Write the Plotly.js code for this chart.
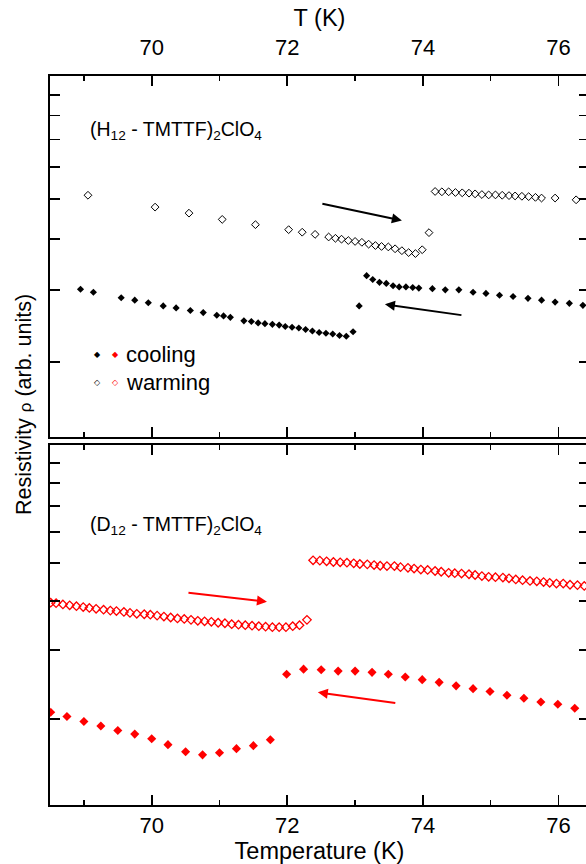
<!DOCTYPE html>
<html><head><meta charset="utf-8">
<script src="https://cdn.plot.ly/plotly-3.0.1.min.js"></script>
<style>html,body{margin:0;padding:0;overflow:hidden;background:#fff}#plot{width:592px;height:864px}</style>
</head><body><div id="plot"></div>
<script>
// (H12-TMTTF)2ClO4 — top panel
var hCoolT = [68.95,69.14,69.55,69.75,69.95,70.17,70.36,70.57,70.76,70.96,71.06,71.16,71.36,71.47,71.57,71.67,71.78,71.88,71.97,72.07,72.17,72.27,72.37,72.47,72.57,72.67,72.77,72.87,72.97,73.06,73.17,73.26,73.36,73.46,73.56,73.65,73.75,73.85,73.94,74.14,74.33,74.53,74.74,74.93,75.13,75.33,75.55,75.75,75.95,76.16,76.36];
var hCoolR = [3.01,2.96,2.87,2.83,2.79,2.74,2.71,2.67,2.64,2.60,2.59,2.57,2.52,2.51,2.49,2.48,2.47,2.46,2.44,2.43,2.42,2.40,2.38,2.36,2.35,2.34,2.32,2.31,2.37,2.74,3.25,3.18,3.13,3.11,3.07,3.05,3.05,3.04,3.03,3.02,3.00,3.00,2.96,2.94,2.91,2.89,2.86,2.83,2.80,2.78,2.75];
var hWarmT = [69.06,70.05,70.55,71.04,71.53,72.02,72.22,72.41,72.61,72.71,72.80,72.90,73.00,73.10,73.20,73.30,73.39,73.49,73.59,73.69,73.79,73.89,73.99,74.09,74.18,74.28,74.38,74.48,74.58,74.68,74.77,74.87,74.97,75.07,75.17,75.27,75.36,75.46,75.56,75.66,75.75,75.95,76.26];
var hWarmR = [5.11,4.78,4.62,4.46,4.33,4.21,4.15,4.10,4.04,4.01,3.99,3.96,3.94,3.92,3.88,3.85,3.83,3.82,3.78,3.74,3.70,3.68,3.76,4.14,5.22,5.21,5.21,5.19,5.18,5.17,5.15,5.13,5.12,5.12,5.11,5.10,5.09,5.08,5.07,5.05,5.03,5.03,4.98];
// (D12-TMTTF)2ClO4 — bottom panel
var dCoolT = [68.51,68.75,69.00,69.25,69.50,69.75,70.00,70.24,70.50,70.75,71.00,71.25,71.50,71.75,71.99,72.24,72.50,72.75,73.00,73.25,73.49,73.74,73.99,74.24,74.49,74.74,74.99,75.24,75.49,75.74,75.99,76.24];
var dCoolR = [2.08,2.03,1.97,1.92,1.87,1.83,1.78,1.72,1.65,1.62,1.64,1.68,1.71,1.77,2.60,2.68,2.67,2.65,2.65,2.63,2.60,2.56,2.52,2.48,2.43,2.39,2.35,2.30,2.26,2.21,2.18,2.13];
var dWarmT = [68.51,68.59,68.69,68.79,68.89,68.99,69.08,69.18,69.29,69.39,69.48,69.59,69.68,69.78,69.89,69.98,70.08,70.18,70.28,70.38,70.48,70.58,70.68,70.78,70.88,70.98,71.08,71.18,71.28,71.38,71.48,71.58,71.68,71.78,71.88,71.98,72.08,72.18,72.29,
  72.38,72.48,72.58,72.68,72.78,72.88,72.98,73.07,73.18,73.28,73.37,73.47,73.58,73.67,73.78,73.87,73.97,74.07,74.18,74.27,74.38,74.47,74.57,74.68,74.77,74.87,74.97,75.07,75.18,75.27,75.37,75.47,75.58,75.68,75.78,75.87,75.97,76.07,76.17,76.28,76.38];
var dWarmR = [3.96,3.95,3.92,3.90,3.88,3.86,3.84,3.82,3.80,3.78,3.77,3.75,3.73,3.71,3.70,3.69,3.67,3.65,3.63,3.61,3.60,3.58,3.56,3.55,3.54,3.52,3.51,3.49,3.48,3.47,3.46,3.45,3.44,3.43,3.43,3.43,3.45,3.47,3.58,
  5.08,5.07,5.05,5.03,5.02,5.01,4.99,4.97,4.96,4.94,4.92,4.91,4.91,4.88,4.86,4.84,4.81,4.80,4.77,4.75,4.72,4.71,4.70,4.68,4.66,4.63,4.61,4.60,4.59,4.57,4.54,4.52,4.50,4.49,4.47,4.45,4.43,4.43,4.40,4.39,4.37];

var xTicks = [70,72,74,76];
var xMinor = [69,71,73,75];
var yTicks = [2,3,4,5,6,7,8,9];

var FONT = 'Liberation Sans, Arial, sans-serif';
var RED = 'rgb(255,0,0)';

var traces = [
  {x:hCoolT, y:hCoolR, xaxis:'x2', yaxis:'y', mode:'markers', name:'cooling',
   marker:{symbol:'diamond', size:5.5, color:'#000'}},
  {x:hWarmT, y:hWarmR, xaxis:'x2', yaxis:'y', mode:'markers', name:'warming',
   marker:{symbol:'diamond-open', size:6, color:'#000', line:{width:1,color:'#000'}}},
  {x:dCoolT, y:dCoolR, xaxis:'x', yaxis:'y2', mode:'markers', name:'cooling D',
   marker:{symbol:'diamond', size:7, color:RED}},
  {x:dWarmT, y:dWarmR, xaxis:'x', yaxis:'y2', mode:'markers', name:'warming D',
   marker:{symbol:'diamond-open', size:6.5, color:RED, line:{width:1.3,color:RED}}}
];

var axCommon = {
  showline:true, linewidth:2, linecolor:'#000', mirror:'ticks',
  ticks:'inside', ticklen:10, tickwidth:1.6, tickcolor:'#000',
  showgrid:false, zeroline:false
};
function xa(extra){ return Object.assign({}, axCommon, {
  range:[68.5,76.45], tickmode:'array', tickvals:xTicks,
  tickfont:{family:FONT, size:22, color:'#000'},
  minor:{tickmode:'array', tickvals:xMinor, ticks:'inside', ticklen:5, tickwidth:1.6, tickcolor:'#000', showgrid:false}
}, extra); }
function ya(extra){ return Object.assign({}, axCommon, {
  type:'log', tickmode:'array', tickvals:yTicks, showticklabels:false
}, extra); }

var PW = 539, PH = 729, L = 50, T = 76;
function px(xp){ return (xp - L)/PW; }
function py(yp){ return (T + PH - yp)/PH; }

var annotations = [
  {xref:'paper', yref:'paper', x:px(88), y:py(130), xanchor:'left', yanchor:'middle', showarrow:false,
   text:'(H<sub>12</sub> - TMTTF)<sub>2</sub>ClO<sub>4</sub>', font:{family:FONT, size:19.5, color:'#000'}},
  {xref:'paper', yref:'paper', x:px(88), y:py(525), xanchor:'left', yanchor:'middle', showarrow:false,
   text:'(D<sub>12</sub> - TMTTF)<sub>2</sub>ClO<sub>4</sub>', font:{family:FONT, size:19.5, color:'#000'}},
  {xref:'paper', yref:'paper', x:px(24), y:py(405), xanchor:'center', yanchor:'middle', showarrow:false, textangle:-90,
   text:'Resistivity <span style="font-size:17px">ρ</span> (arb. units)', font:{family:FONT, size:21.5, color:'#000'}},
  // legend
  {xref:'paper', yref:'paper', x:px(92), y:py(354), showarrow:false, text:'◆', font:{family:'DejaVu Sans', size:8, color:'#000'}},
  {xref:'paper', yref:'paper', x:px(110), y:py(354), showarrow:false, text:'◆', font:{family:'DejaVu Sans', size:8, color:RED}},
  {xref:'paper', yref:'paper', x:px(92), y:py(382), showarrow:false, text:'◇', font:{family:'DejaVu Sans', size:8, color:'#000'}},
  {xref:'paper', yref:'paper', x:px(110), y:py(382), showarrow:false, text:'◇', font:{family:'DejaVu Sans', size:8, color:RED}},
  {xref:'paper', yref:'paper', x:px(124), y:py(354), xanchor:'left', yanchor:'middle', showarrow:false, text:'cooling', font:{family:FONT, size:22, color:'#000'}},
  {xref:'paper', yref:'paper', x:px(124), y:py(382), xanchor:'left', yanchor:'middle', showarrow:false, text:'warming', font:{family:FONT, size:22, color:'#000'}},
  // arrows (head position in axis coordinates, tail as pixel offset)
  {xref:'x2', yref:'y', x:73.69, y:0.6466, ax:-81, ay:-17, text:'', showarrow:true, arrowhead:2, arrowsize:1, arrowwidth:2, arrowcolor:'#000', standoff:0},
  {xref:'x2', yref:'y', x:73.44, y:0.4417, ax:78, ay:11, text:'', showarrow:true, arrowhead:2, arrowsize:1, arrowwidth:2, arrowcolor:'#000', standoff:0},
  {xref:'x', yref:'y2', x:71.70, y:0.6003, ax:-80, ay:-9, text:'', showarrow:true, arrowhead:2, arrowsize:1, arrowwidth:2, arrowcolor:RED, standoff:0},
  {xref:'x', yref:'y2', x:72.45, y:0.3691, ax:79, ay:11, text:'', showarrow:true, arrowhead:2, arrowsize:1, arrowwidth:2, arrowcolor:RED, standoff:0}
];

var layout = {
  width:592, height:864,
  margin:{l:L, r:3, t:T, b:59, pad:0},
  paper_bgcolor:'#fff', plot_bgcolor:'#fff',
  showlegend:false,
  font:{family:FONT, size:22, color:'#000'},
  xaxis: xa({anchor:'y2', title:{text:'Temperature (K)', font:{family:FONT, size:23.5}, standoff:0}}),
  xaxis2: xa({anchor:'y', side:'top', matches:'x', ticklabelstandoff:10,
    title:{text:'T (K)', font:{family:FONT, size:23.5}, standoff:2}}),
  yaxis: ya({domain:[(T+PH-437)/PH, 1], range:[0.1173, 1], anchor:'x2'}),
  yaxis2: ya({domain:[0, (T+PH-445)/PH], range:[0.0816, 1], anchor:'x'}),
  annotations: annotations
};

Plotly.newPlot('plot', traces, layout, {displayModeBar:false, staticPlot:true});
</script>
</body></html>
